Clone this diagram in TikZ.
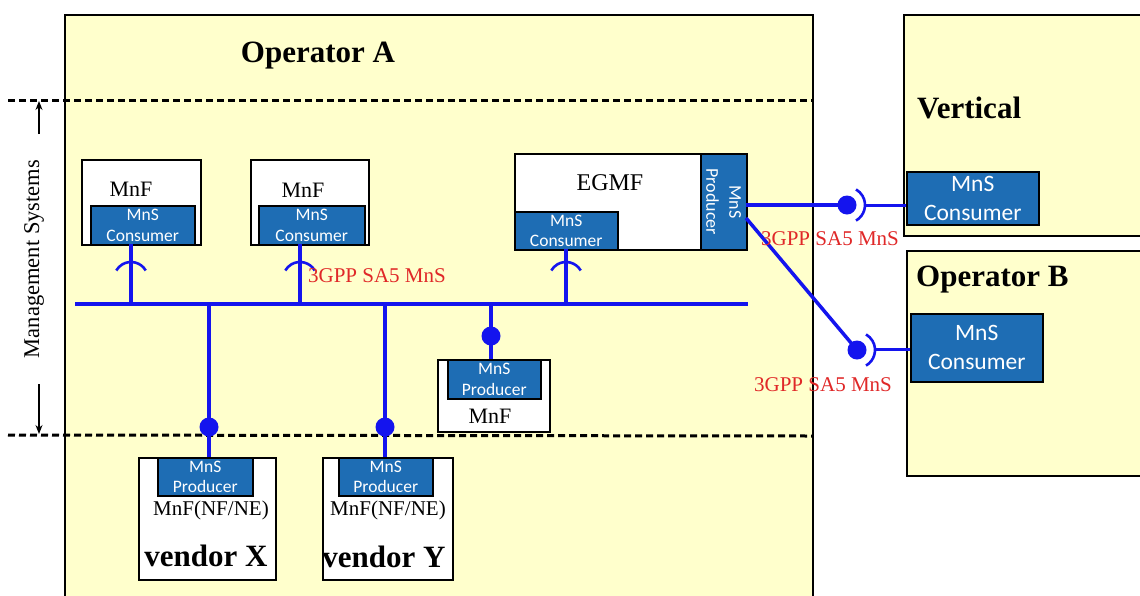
\documentclass[tikz,border=0pt]{standalone}
\usepackage{fontspec}
\setmainfont{Liberation Serif}
\newfontfamily\boxfont{Carlito}
\usetikzlibrary{arrows.meta}
\definecolor{yel}{HTML}{FFFFCC}
\definecolor{mnsblue}{HTML}{1E6DB4}
\definecolor{conn}{HTML}{1414EE}
\definecolor{lbl}{HTML}{E02828}
\begin{document}
\begin{tikzpicture}[x=1pt,y=-1pt,
  frame/.style={draw=black, line width=2pt, fill=yel},
  mnfbox/.style={draw=black, line width=1.8pt, fill=white, rectangle, inner sep=0pt, anchor=north west},
  mnsbox/.style={draw=black, line width=1.5pt, fill=mnsblue, text=white, rectangle,
    font=\boxfont\fontsize{17.5}{20.5}\selectfont, align=center, inner sep=0pt, anchor=north west},
  bigmns/.style={mnsbox, font=\boxfont\fontsize{23.5}{29}\selectfont},
  wire/.style={draw=conn, line width=3.5pt},
  sock/.style={draw=conn, line width=2.6pt},
  ball/.style={circle, fill=conn, inner sep=0pt, minimum size=19pt},
  lab/.style={text=lbl, font=\fontsize{21}{23}\selectfont, inner sep=0pt},
  title/.style={font=\bfseries\fontsize{31}{33}\selectfont, inner sep=0pt},
  mnftxt/.style={font=\fontsize{22}{24}\selectfont, inner sep=0pt},
  dashline/.style={draw=black, line width=3pt, dash pattern=on 7pt off 4pt}
]
\useasboundingbox (0,0) rectangle (1140,595);
\fill[white] (0,0) rectangle (1140,595);

% frames
\path[frame] (65,15) rectangle (813,605);
\path[frame] (904,15) rectangle (1150,236);
\path[frame] (907,251) rectangle (1150,476);

\node[title] (opA) at (318,56) {Operator A};
\node[title, anchor=west] (vert) at (917,108) {Vertical};
\node[title, anchor=west] (opB) at (916,280) {Operator B};

% dashed management boundaries
\coordinate (dtl) at (8,100);
\coordinate (dtr) at (812,100);
\coordinate (dbl) at (8,435);
\coordinate (dbr) at (812,436);
\path[dashline] (dtl) -- (dtr);
\path[dashline] (dbl) -- (dbr);

\coordinate (arT1) at (39,134);
\coordinate (arT2) at (39,101);
\coordinate (arB1) at (39,384);
\coordinate (arB2) at (39,434);
\draw[line width=1.3pt, -{Stealth[length=9pt,width=7pt]}] (arT1) -- (arT2);
\draw[line width=1.3pt, -{Stealth[length=9pt,width=7pt]}] (arB1) -- (arB2);
\node[rotate=90, font=\fontsize{22.5}{24}\selectfont, inner sep=0pt] (ms) at (34,259) {Management Systems};

% MnF boxes with consumers
\node[mnfbox, minimum width=119pt, minimum height=85pt] (mnf1) at (81,159) {};
\node[mnftxt] (mnf1t) at (131,189) {MnF};
\node[mnsbox, minimum width=104pt, minimum height=39pt] (cons1) at (90,205) {MnS\\Consumer};

\node[mnfbox, minimum width=118pt, minimum height=85pt] (mnf2) at (250,159) {};
\node[mnftxt] (mnf2t) at (303,190) {MnF};
\node[mnsbox, minimum width=106pt, minimum height=39pt] (cons2) at (258,205) {MnS\\Consumer};

% EGMF
\node[mnfbox, minimum width=232pt, minimum height=96pt] (egmf) at (514,153) {};
\node[mnftxt, font=\fontsize{24}{26}\selectfont] (egmft) at (610,183) {EGMF};
\node[mnsbox, minimum width=46pt, minimum height=96pt] (egmfp) at (700,153) {};
\node[rotate=-90, text=white, font=\boxfont\fontsize{18}{23}\selectfont, align=center, inner sep=0pt] (egmfpt) at (egmfp.center) {MnS\\Producer};
\node[mnsbox, minimum width=103pt, minimum height=38pt] (egmfc) at (514,211) {MnS\\Consumer};

% MnF with producer
\node[mnfbox, minimum width=112pt, minimum height=72pt] (mnf3) at (437,359) {};
\node[mnsbox, minimum width=93pt, minimum height=39pt] (prod3) at (447,359) {MnS\\Producer};
\node[mnftxt] (mnf3t) at (490,416) {MnF};

% vendor X / Y
\node[mnfbox, minimum width=137pt, minimum height=122pt] (vx) at (138,457) {};
\node[mnsbox, minimum width=95pt, minimum height=38pt] (prodx) at (157,457) {MnS\\Producer};
\node[mnftxt, font=\fontsize{21}{22}\selectfont] (vxt) at (211,510) {MnF(NF/NE)};
\node[title] (vxn) at (206,556) {vendor X};

\node[mnfbox, minimum width=130pt, minimum height=122pt] (vy) at (322,457) {};
\node[mnsbox, minimum width=94pt, minimum height=38pt] (prody) at (338,457) {MnS\\Producer};
\node[mnftxt, font=\fontsize{21}{22}\selectfont] (vyt) at (388,510) {MnF(NF/NE)};
\node[title] (vyn) at (384,557) {vendor Y};

% right side consumers
\node[bigmns, minimum width=132pt, minimum height=53pt] (cv) at (906,171) {MnS\\Consumer};
\node[bigmns, minimum width=132pt, minimum height=68pt] (cb) at (910,313) {MnS\\Consumer};

% bus
\coordinate (busL) at (75,304);
\coordinate (busR) at (748,304);
\path[wire] (busL) -- (busR);

% consumer drops with sockets
\coordinate (c1) at (131,244);
\coordinate (c2) at (300,244);
\coordinate (c3) at (566,249);
\path[wire] (c1) -- (c1 |- busL);
\path[wire] (c2) -- (c2 |- busL);
\path[wire] (c3) -- (c3 |- busL);
\path[sock] (131,279) ++(30:17pt) arc[start angle=30, end angle=150, radius=17pt];
\path[sock] (300,279) ++(30:17pt) arc[start angle=30, end angle=150, radius=17pt];
\path[sock] (566,279) ++(30:17pt) arc[start angle=30, end angle=150, radius=17pt];

% producer drops with balls
\coordinate (p1) at (209,457);
\coordinate (p2) at (385,457);
\coordinate (p3) at (491,359);
\path[wire] (p1 |- busL) -- (p1);
\path[wire] (p2 |- busL) -- (p2);
\path[wire] (p3 |- busL) -- (p3);
\node[ball] (b1) at (209,427) {};
\node[ball] (b2) at (385,427) {};
\node[ball] (b3) at (491,336) {};

\node[lab] (l1) at (377,276) {3GPP SA5 MnS};

% EGMF producer to external consumers
\coordinate (e1) at (746,205);
\coordinate (e2) at (746,218);
\node[ball] (bv) at (847,205) {};
\node[ball] (bb) at (857,350) {};
\path[wire] (e1) -- (bv.center);
\path[wire] (e2) -- (bb.center);
\path[sock] (bv.center) ++(-60:18pt) arc[start angle=-60, end angle=60, radius=18pt];
\path[sock] (bb.center) ++(-60:18pt) arc[start angle=-60, end angle=60, radius=18pt];
\coordinate (sv) at (866,205);
\coordinate (sb) at (876,349);
\path[draw=conn, line width=3pt] (sv) -- (cv.west |- sv);
\path[draw=conn, line width=3pt] (sb) -- (cb.west |- sb);

\node[lab] (l2) at (830,239) {3GPP SA5 MnS};
\node[lab] (l3) at (823,385) {3GPP SA5 MnS};
\end{tikzpicture}
\end{document}
